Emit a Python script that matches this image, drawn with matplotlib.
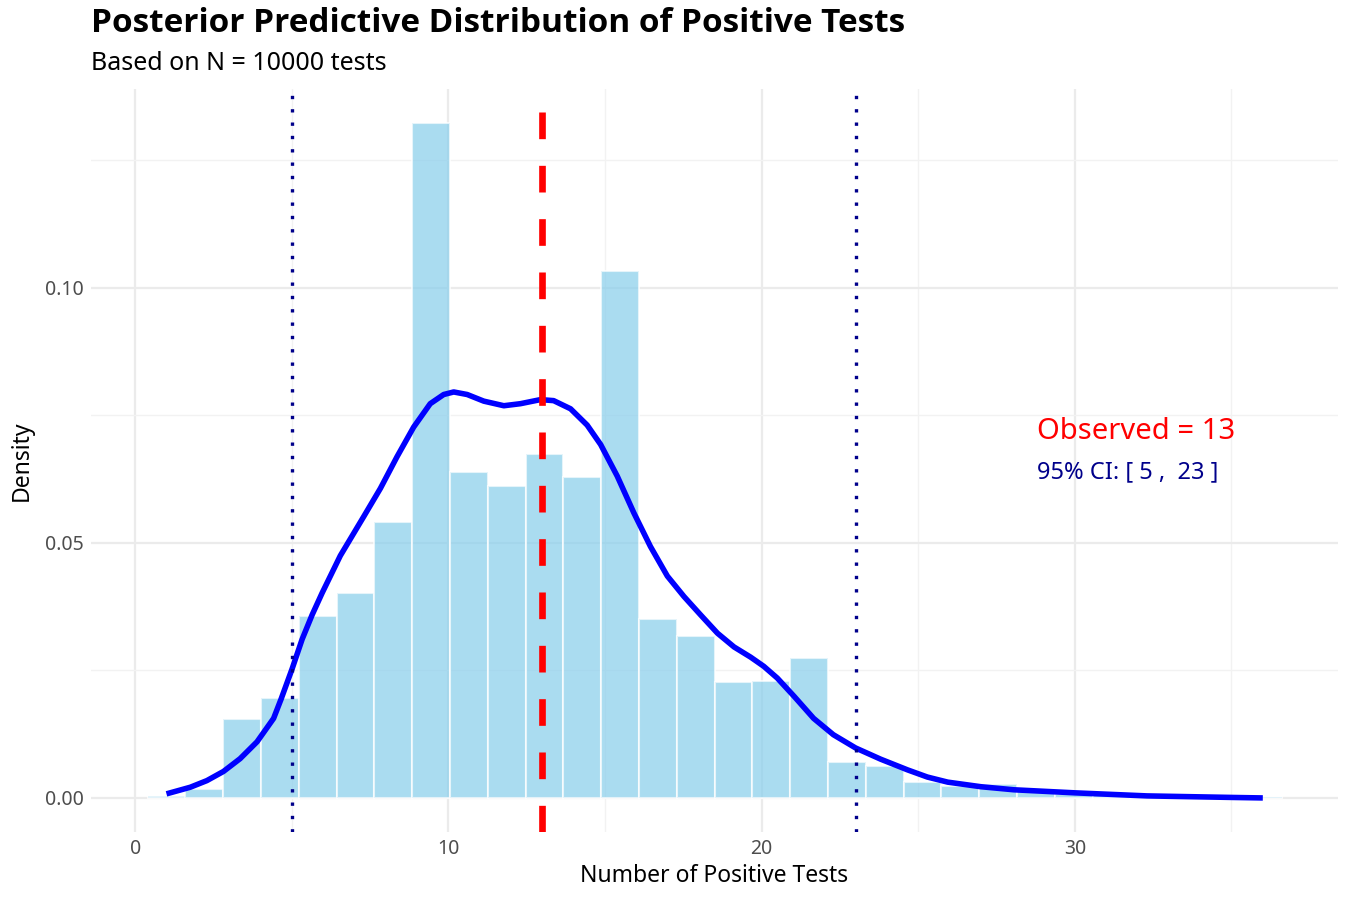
import numpy as np
import matplotlib
matplotlib.use("Agg")
import matplotlib.pyplot as plt
from matplotlib.ticker import MultipleLocator

plt.rcParams['font.family'] = ['Noto Sans', 'DejaVu Sans']

# histogram: 30 bins over the sample range 1..36 (ggplot style, centred on the min)
sample_min, sample_max, n_bins = 1, 36, 30
bin_density = [0.0003, 0.0018, 0.0155, 0.0196, 0.0357, 0.0402, 0.0542, 0.1323,
               0.0640, 0.0612, 0.0674, 0.0629, 0.1034, 0.0350, 0.0317, 0.0227,
               0.0230, 0.0275, 0.0070, 0.0062, 0.0032, 0.0023, 0.0028, 0.0013,
               0.0008, 0.0005, 0.0004, 0.0002, 0.0001, 0.0001]

# density curve
kde_x = [1.0, 1.76, 2.29, 2.82, 3.35, 3.89, 4.42, 4.66, 5.01, 5.33, 5.65, 5.97,
         6.55, 7.30, 7.83, 8.36, 8.89, 9.42, 9.85, 10.17, 10.60, 11.13, 11.77,
         12.30, 12.94, 13.36, 13.90, 14.43, 14.86, 15.39, 15.92, 16.45, 16.99,
         17.52, 18.05, 18.59, 19.12, 19.65, 20.07, 20.50, 21.04, 21.66, 22.29,
         23.0, 23.8, 24.66, 25.29, 25.94, 27.0, 28.05, 30.0, 32.3, 35.0, 36.0]
kde_y = [0.0008, 0.0021, 0.0034, 0.0052, 0.0077, 0.0110, 0.0156, 0.0194, 0.0253,
         0.0311, 0.0359, 0.0402, 0.0475, 0.0552, 0.0607, 0.0669, 0.0727, 0.0773,
         0.0791, 0.0796, 0.0791, 0.0778, 0.0769, 0.0773, 0.0781, 0.0779, 0.0763,
         0.0731, 0.0693, 0.0631, 0.0559, 0.0493, 0.0435, 0.0395, 0.0359, 0.0323,
         0.0296, 0.0276, 0.0258, 0.0235, 0.0199, 0.0156, 0.0124, 0.0098, 0.0076,
         0.0055, 0.0041, 0.0031, 0.0022, 0.0016, 0.0010, 0.0004, 0.0001, 0.0000]

observed = 13
ci_low, ci_high = 5, 23
n_tests = 10000

bin_width = (sample_max - sample_min) / (n_bins - 1)
bin_centers = np.linspace(sample_min, sample_max, n_bins)

fig = plt.figure(figsize=(13.5, 9), dpi=100)
ax = fig.add_axes([0.0674, 0.0756, 0.9237, 0.8255])

ax.bar(bin_centers, bin_density, width=bin_width, color='skyblue', alpha=0.7,
       edgecolor='white', linewidth=1.5, zorder=2)
ax.plot(kde_x, kde_y, color='blue', linewidth=4.0, zorder=3,
        solid_capstyle='butt', solid_joinstyle='round')

ax.axvline(observed, color='red', linewidth=4.8, linestyle=(0, (4, 4)),
           dash_capstyle='butt', zorder=4)
for v in (ci_low, ci_high):
    ax.axvline(v, color='darkblue', linewidth=2.4, linestyle=(0, (1, 3)),
               dash_capstyle='butt', zorder=4)

ax.text(28.8, 0.0718, f"Observed = {observed}", color='red', fontsize=21,
        ha='left', va='center', zorder=5)
ax.text(28.8, 0.0639, f"95% CI: [ {ci_low} ,  {ci_high} ]", color='darkblue',
        fontsize=17, ha='left', va='center', zorder=5)

ax.set_xlim(-1.41, 38.4)
ax.set_ylim(-0.00667, 0.139)
ax.xaxis.set_major_locator(MultipleLocator(10))
ax.xaxis.set_minor_locator(MultipleLocator(5))
ax.yaxis.set_major_locator(MultipleLocator(0.05))
ax.yaxis.set_minor_locator(MultipleLocator(0.025))
ax.yaxis.set_major_formatter(lambda v, p: f"{v:.2f}")

ax.grid(which='major', color='#EBEBEB', linewidth=1.6, zorder=0)
ax.grid(which='minor', color='#F2F2F2', linewidth=1.0, zorder=0)
ax.set_axisbelow(True)
for s in ax.spines.values():
    s.set_visible(False)
ax.tick_params(which='both', length=0, labelsize=14, labelcolor='#4D4D4D', pad=5)

ax.set_xlabel("Number of Positive Tests", fontsize=16.5, labelpad=4)
ax.set_ylabel("Density", fontsize=16.5, labelpad=8)

fig.text(0.0674, 0.9735, "Posterior Predictive Distribution of Positive Tests",
         fontsize=24, fontweight='bold', family=['Open Sans', 'DejaVu Sans'],
         ha='left', va='center')
fig.text(0.0674, 0.93, f"Based on N = {n_tests} tests", fontsize=18,
         ha='left', va='center')

fig.savefig("out.png", dpi=100)
